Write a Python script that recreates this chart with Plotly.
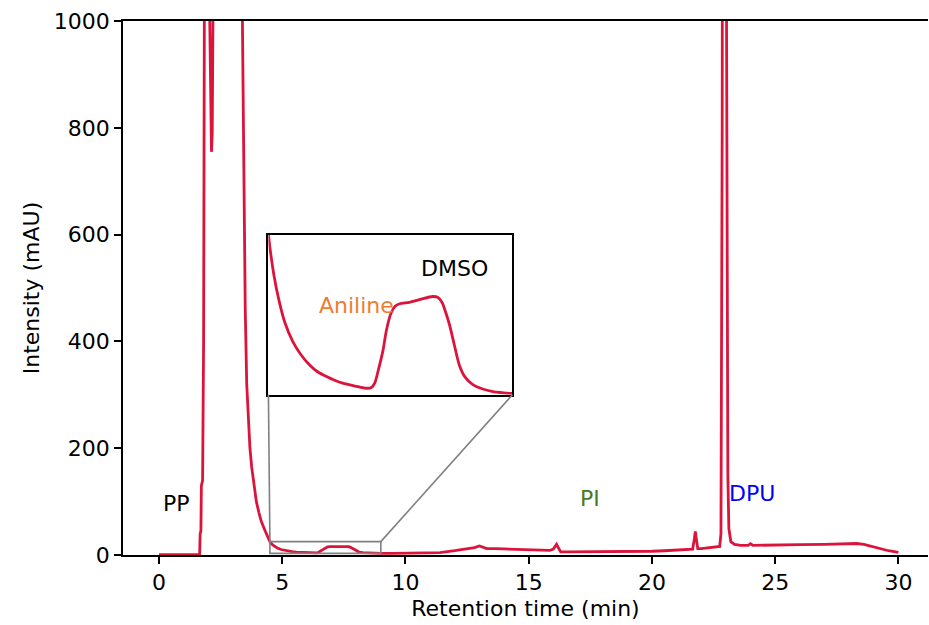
import plotly.graph_objects as go

# Retention time (min) and intensity (mAU)
rt = [0.0, 1.0, 1.60, 1.65, 1.67, 1.70, 1.72, 1.77, 1.81, 1.85, 1.90, 2.00, 2.06, 2.10, 2.13, 2.16, 2.21, 2.27,
      2.60, 3.00, 3.30, 3.38, 3.42, 3.46, 3.50, 3.56, 3.62, 3.69, 3.76, 3.85, 3.95, 4.05, 4.15,
      4.30, 4.40, 4.50, 4.60, 4.70, 4.80, 4.95, 5.10, 5.26, 5.40, 5.57, 5.72, 5.87, 6.10, 6.30,
      6.40, 6.46, 6.53, 6.61, 6.68, 6.76, 6.84, 6.92, 7.10, 7.30, 7.53, 7.62, 7.70, 7.77, 7.84,
      7.93, 8.02, 8.12, 8.27, 8.45, 8.64, 8.80, 8.95, 9.00, 9.50, 10.0, 10.5, 11.0, 11.4, 12.0,
      12.5, 12.8, 13.0, 13.15, 13.3, 13.6, 13.85, 14.0, 14.5, 14.9, 15.2, 15.46, 15.6, 15.73,
      15.85, 16.0, 16.13, 16.22, 16.30, 16.6, 17.0, 18.0, 19.0, 20.0, 20.5, 21.0, 21.5, 21.65,
      21.72, 21.76, 21.80, 21.86, 22.0, 22.4, 22.75, 22.80, 22.85, 22.90, 22.97, 23.02, 23.08,
      23.12, 23.20, 23.35, 23.6, 23.9, 24.0, 24.1, 24.5, 25.0, 26.0, 27.0, 28.0, 28.3, 28.6,
      28.84, 29.2, 29.6, 30.0]
intensity = [0.5, 0.5, 0.6, 1.0, 40, 45, 130, 140, 400, 1200, 3000, 2500, 1000, 790, 755, 790, 1000, 3000,
             4000, 3500, 1400, 1000, 760, 580, 460, 320, 250, 200, 165, 130, 100, 80, 63,
             46, 34, 25, 19.5, 15.8, 13.0, 10.3, 8.5, 7.1, 6.2, 5.5, 5.0, 4.6, 4.2, 3.9,
             4.0, 4.6, 6.5, 9.0, 12.0, 14.2, 15.2, 15.5, 15.7, 16.1, 16.5, 16.4, 15.7, 14.3, 12.6,
             9.8, 7.1, 5.5, 4.4, 3.8, 3.45, 3.3, 3.2, 3.2, 3.2, 3.3, 3.5, 4.0, 4.5, 8,
             11, 14, 17, 14, 12, 12, 12.5, 11.5, 10.5, 10, 9, 8.5, 9, 9.5,
             8.5, 11, 20, 12, 6, 6, 6, 6, 6, 7, 8, 9, 10, 11,
             30, 44, 30, 12, 12, 14, 16, 40, 800, 3000, 3000, 800, 150,
             50, 25, 20, 18, 18, 21, 18, 18.5, 19, 19.5, 20, 21, 21.5, 20,
             17, 12, 8, 5]

x_ticks = [0, 5, 10, 15, 20, 25, 30]
y_ticks = [0, 200, 400, 600, 800, 1000]

labels = ["PP", "PI", "DPU", "Aniline", "DMSO"]
label_x = [0.73, 17.49, 24.06, 8.03, 11.97]
label_y = [97, 105, 116, 468, 537]
label_colors = ["black", "#4a7a23", "blue", "#ed7d31", "black"]

# axis ranges
XR = [-1.46, 31.2]
YR = [0, 1000]
ZX = [4.5, 9.0]      # zoom window
ZY = [3.0, 25.0]
INS_X = [4.44, 14.34]   # inset box in data coords of main axes
INS_Y = [300, 600]

FONT = "DejaVu Sans"
FS = 22
RED = "#dc143c"

fig = go.Figure()
fig.add_trace(go.Scatter(x=rt, y=intensity, mode="lines", line=dict(color=RED, width=2.8),
                         showlegend=False, hoverinfo="skip"))
fig.add_trace(go.Scatter(x=rt, y=intensity, mode="lines",
                         line=dict(color=RED, width=2.8, shape="spline", smoothing=0.8),
                         xaxis="x2", yaxis="y2", showlegend=False, hoverinfo="skip"))

for t, lx, ly, c in zip(labels, label_x, label_y, label_colors):
    fig.add_annotation(x=lx, y=ly, xref="x", yref="y", text=t, showarrow=False,
                       font=dict(family=FONT, size=FS, color=c), xanchor="center", yanchor="middle")

gray = "#808080"
fig.add_shape(type="rect", x0=ZX[0], x1=ZX[1], y0=ZY[0], y1=ZY[1], xref="x", yref="y",
              line=dict(color=gray, width=1.6), layer="above")
fig.add_shape(type="line", x0=INS_X[0], y0=INS_Y[0], x1=ZX[0], y1=ZY[1], xref="x", yref="y",
              line=dict(color=gray, width=1.6), layer="above")
fig.add_shape(type="line", x0=INS_X[1], y0=INS_Y[0], x1=ZX[1], y1=ZY[1], xref="x", yref="y",
              line=dict(color=gray, width=1.6), layer="above")

dx0 = (INS_X[0] - XR[0]) / (XR[1] - XR[0])
dx1 = (INS_X[1] - XR[0]) / (XR[1] - XR[0])
dy0 = (INS_Y[0] - YR[0]) / (YR[1] - YR[0])
dy1 = (INS_Y[1] - YR[0]) / (YR[1] - YR[0])

axis_common = dict(showgrid=False, zeroline=False, linecolor="black", linewidth=1.6,
                   tickcolor="black", tickwidth=1.6, ticklen=7, ticks="outside",
                   tickfont=dict(family=FONT, size=FS, color="black"))

fig.update_layout(
    width=929, height=625,
    margin=dict(l=123, r=1, t=21, b=70),
    plot_bgcolor="white", paper_bgcolor="white",
    font=dict(family=FONT, size=FS, color="black"),
    xaxis=dict(range=XR, tickvals=x_ticks, showline=True, mirror=True,
               title=dict(text="Retention time (min)", font=dict(family=FONT, size=FS), standoff=6),
               **axis_common),
    yaxis=dict(range=YR, tickvals=y_ticks, showline=True, mirror=False,
               title=dict(text="Intensity (mAU)", font=dict(family=FONT, size=FS), standoff=8),
               **axis_common),
    xaxis2=dict(domain=[dx0, dx1], anchor="y2", range=ZX, showline=True, mirror=True,
                linecolor="black", linewidth=1.6, showticklabels=False, ticks="",
                showgrid=False, zeroline=False),
    yaxis2=dict(domain=[dy0, dy1], anchor="x2", range=ZY, showline=True, mirror=True,
                linecolor="black", linewidth=1.6, showticklabels=False, ticks="",
                showgrid=False, zeroline=False),
)

fig.write_html("out.html")
